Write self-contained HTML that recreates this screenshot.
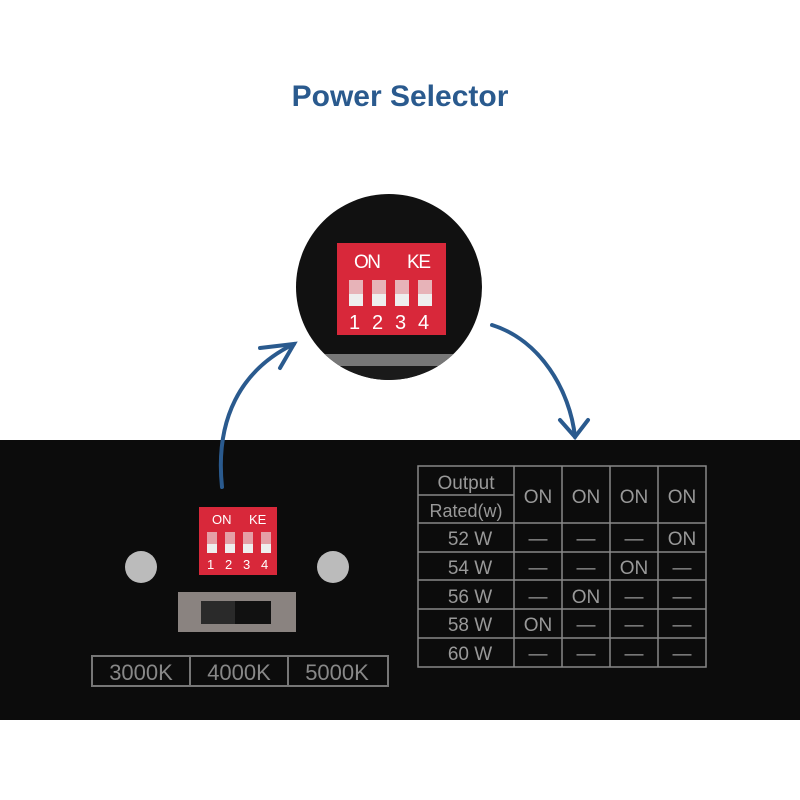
<!DOCTYPE html>
<html><head><meta charset="utf-8"><style>
body{margin:0;width:800px;height:800px;background:#fff;position:relative;overflow:hidden;font-family:"Liberation Sans",sans-serif}
.a{position:absolute}
</style></head><body>
<div class="a" style="left:0;top:80px;width:800px;text-align:center;font-size:30px;font-weight:bold;color:#2a5a8e">Power Selector</div>
<div class="a" style="left:0;top:440px;width:800px;height:280px;background:#0c0c0c"></div>

<svg class="a" style="left:0;top:0" width="800" height="800">
<defs><clipPath id="c"><circle cx="389" cy="287" r="93"/></clipPath></defs>
<g clip-path="url(#c)">
<rect x="290" y="190" width="200" height="200" fill="#111"/>
<rect x="290" y="354" width="200" height="12" fill="#777"/>
<rect x="290" y="366" width="200" height="20" fill="#1a1a1a"/>
<rect x="337" y="243" width="109" height="92" fill="#d8283a"/>
<text x="354" y="268" fill="#fff" font-size="19" textLength="27">ON</text>
<text x="407" y="268" fill="#fff" font-size="19" textLength="24">KE</text>
<g fill="#eee">
<rect x="349" y="280" width="14" height="14" opacity="0.7"/><rect x="372" y="280" width="14" height="14" opacity="0.7"/>
<rect x="395" y="280" width="14" height="14" opacity="0.7"/><rect x="418" y="280" width="14" height="14" opacity="0.7"/>
<rect x="349" y="294" width="14" height="12"/><rect x="372" y="294" width="14" height="12"/>
<rect x="395" y="294" width="14" height="12"/><rect x="418" y="294" width="14" height="12"/></g>
<text x="349" y="329" fill="#fff" font-size="20">1</text><text x="372" y="329" fill="#fff" font-size="20">2</text>
<text x="395" y="329" fill="#fff" font-size="20">3</text><text x="418" y="329" fill="#fff" font-size="20">4</text>
</g>
<g fill="none" stroke="#2a5a8e" stroke-width="4" stroke-linecap="round">
<path d="M222 487 C215 420 240 370 294 344"/>
<path d="M260 348 L294 344 L280 368"/>
<path d="M492 325 C540 340 570 390 575 437"/>
<path d="M560 420 L575 437 L588 420"/>
</g>
<rect x="199" y="507" width="78" height="68" fill="#d8283a"/>
<text x="212" y="524" fill="#fff" font-size="13">ON</text><text x="249" y="524" fill="#fff" font-size="13">KE</text>
<g fill="#eee"><rect x="207" y="544" width="10" height="9"/><rect x="225" y="544" width="10" height="9"/><rect x="243" y="544" width="10" height="9"/><rect x="261" y="544" width="10" height="9"/></g>
<g fill="#eee" opacity="0.6"><rect x="207" y="532" width="10" height="12"/><rect x="225" y="532" width="10" height="12"/><rect x="243" y="532" width="10" height="12"/><rect x="261" y="532" width="10" height="12"/></g>
<text x="207" y="569" fill="#fff" font-size="13">1</text><text x="225" y="569" fill="#fff" font-size="13">2</text><text x="243" y="569" fill="#fff" font-size="13">3</text><text x="261" y="569" fill="#fff" font-size="13">4</text>
<circle cx="141" cy="567" r="16" fill="#bbb"/><circle cx="333" cy="567" r="16" fill="#bbb"/>
<rect x="178" y="592" width="118" height="40" fill="#8a8380"/>
<rect x="201" y="601" width="70" height="23" fill="#111"/>
<rect x="201" y="601" width="34" height="23" fill="#2a2a2a"/>
<g stroke="#777" stroke-width="2" fill="none">
<rect x="92" y="656" width="296" height="30"/><line x1="190" y1="656" x2="190" y2="686"/><line x1="288" y1="656" x2="288" y2="686"/></g>
<g fill="#888" font-size="22" text-anchor="middle"><text x="141" y="680">3000K</text><text x="239" y="680">4000K</text><text x="337" y="680">5000K</text></g>
<g stroke="#888" stroke-width="1.5" fill="none">
<rect x="418" y="466" width="288" height="201"/>
<line x1="514" y1="466" x2="514" y2="667"/><line x1="562" y1="466" x2="562" y2="667"/><line x1="610" y1="466" x2="610" y2="667"/><line x1="658" y1="466" x2="658" y2="667"/>
<line x1="418" y1="495" x2="514" y2="495"/>
<line x1="418" y1="523" x2="706" y2="523"/><line x1="418" y1="552" x2="706" y2="552"/><line x1="418" y1="580" x2="706" y2="580"/><line x1="418" y1="609" x2="706" y2="609"/><line x1="418" y1="638" x2="706" y2="638"/>
</g>
<g fill="#999" font-size="19" text-anchor="middle">
<text x="466" y="489">Output</text><text x="466" y="517" font-size="18">Rated(w)</text>
<text x="538" y="503">ON</text><text x="586" y="503">ON</text><text x="634" y="503">ON</text><text x="682" y="503">ON</text>
<text x="470" y="545">52 W</text><text x="470" y="574">54 W</text><text x="470" y="603">56 W</text><text x="470" y="631">58 W</text><text x="470" y="660">60 W</text>
<text x="538" y="545">—</text><text x="586" y="545">—</text><text x="634" y="545">—</text><text x="682" y="545">ON</text>
<text x="538" y="574">—</text><text x="586" y="574">—</text><text x="634" y="574">ON</text><text x="682" y="574">—</text>
<text x="538" y="603">—</text><text x="586" y="603">ON</text><text x="634" y="603">—</text><text x="682" y="603">—</text>
<text x="538" y="631">ON</text><text x="586" y="631">—</text><text x="634" y="631">—</text><text x="682" y="631">—</text>
<text x="538" y="660">—</text><text x="586" y="660">—</text><text x="634" y="660">—</text><text x="682" y="660">—</text>
</g>
</svg>
</body></html>
